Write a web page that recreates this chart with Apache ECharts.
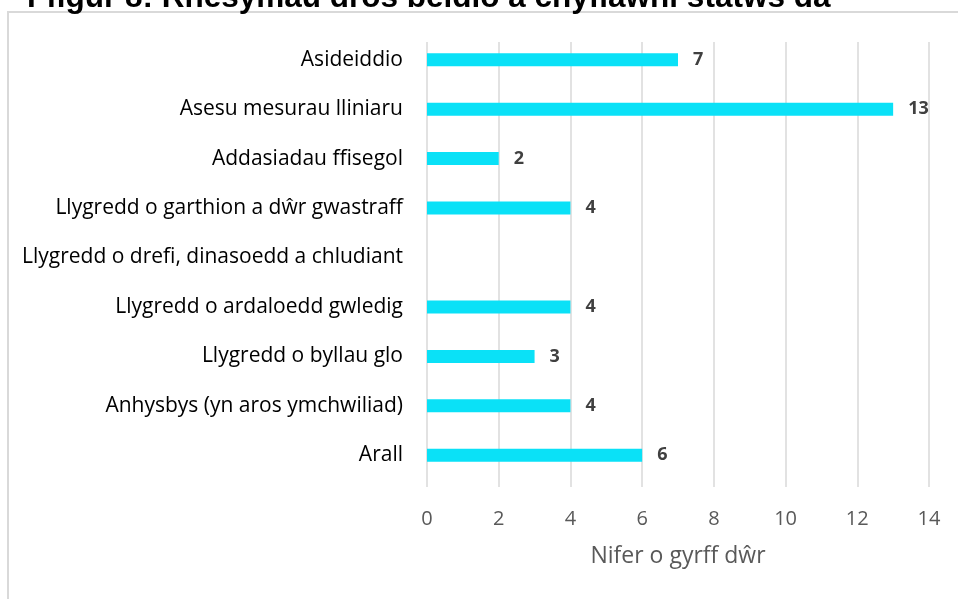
<!DOCTYPE html>
<html><head><meta charset="utf-8">
<script src="https://cdn.jsdelivr.net/npm/echarts@6/dist/echarts.min.js"></script>
<style>html,body{margin:0;padding:0;background:#fff}#c{width:958px;height:599px}</style>
</head><body><div id="c"></div>
<script>
const titleText = 'Ffigur 8: Rhesymau dros beidio â chyflawni statws da';
const categories = ['Asideiddio','Asesu mesurau lliniaru','Addasiadau ffisegol','Llygredd o garthion a dŵr gwastraff','Llygredd o drefi, dinasoedd a chludiant','Llygredd o ardaloedd gwledig','Llygredd o byllau glo','Anhysbys (yn aros ymchwiliad)','Arall'];
const values = [7,13,2,4,null,4,3,4,6];
const xTicks = [0,2,4,6,8,10,12,14];
const xAxisName = 'Nifer o gyrff dŵr';

const chart = echarts.init(document.getElementById('c'));
chart.setOption({
  animation:false,
  title:{text:titleText,left:22,top:-23,textStyle:{fontFamily:'Liberation Sans',fontWeight:'bold',fontSize:31.5,color:'#000'}},
  graphic:[{type:'rect',shape:{x:8,y:12,width:1000,height:700},style:{fill:'none',stroke:'#d9d9d9',lineWidth:2},z:-1}],
  grid:[
    {left:427,right:29,top:35,height:445,containLabel:false},
    {left:427,right:29,top:42,height:445,containLabel:false}
  ],
  xAxis:[
    {gridIndex:0,type:'value',min:0,max:14,interval:2,show:false},
    {gridIndex:1,type:'value',min:0,max:14,interval:2,
     axisLine:{show:false},axisTick:{show:false},
     splitLine:{show:true,lineStyle:{color:'#d9d9d9',width:1.5}},
     axisLabel:{color:'#595959',fontSize:20,fontFamily:'Open Sans',margin:22},
     name:xAxisName,nameLocation:'middle',nameGap:58,
     nameTextStyle:{color:'#595959',fontSize:23,fontFamily:'Open Sans'}}
  ],
  yAxis:[
    {gridIndex:0,type:'category',data:categories,inverse:true,
     axisLine:{show:false},axisTick:{show:false},
     axisLabel:{color:'#000',fontSize:21,fontFamily:'Open Sans',margin:24}},
    {gridIndex:1,type:'category',data:categories,inverse:true,show:false}
  ],
  series:[{type:'bar',xAxisIndex:0,yAxisIndex:0,data:values,barWidth:13,
    itemStyle:{color:'#0ae1f7'},
    label:{show:true,position:'right',distance:15,color:'#404040',fontSize:18,fontWeight:'bold',fontFamily:'Open Sans',
      formatter:p=>p.value==null?'':p.value}}]
});
</script></body></html>
